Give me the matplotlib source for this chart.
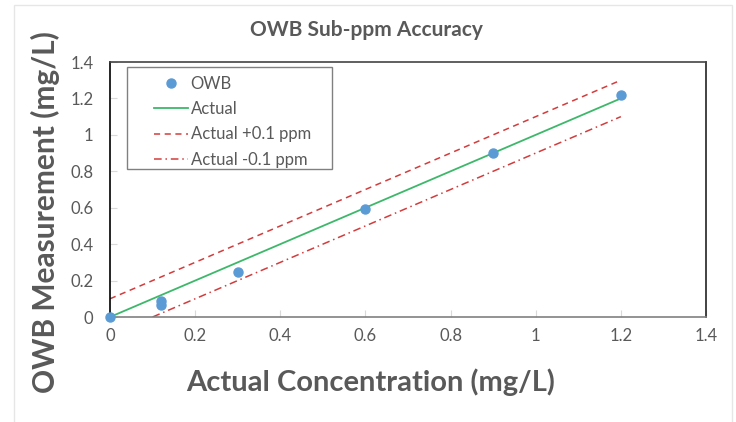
import numpy as np
import matplotlib
matplotlib.use('Agg')
import matplotlib.pyplot as plt
from matplotlib.patches import Rectangle
from matplotlib.ticker import FuncFormatter

plt.rcParams['font.family'] = ['Lato', 'DejaVu Sans']

# measured points
owb_x = [0, 0.12, 0.12, 0.3, 0.6, 0.9, 1.2]
owb_y = [0, 0.065, 0.088, 0.245, 0.595, 0.9, 1.22]

actual_x = [0, 1.2]
actual_y = [0, 1.2]
plus_x = [0, 1.2]
plus_y = [0.1, 1.3]
minus_x = [0.1, 1.2]
minus_y = [0, 1.1]

ticks = [0, 0.2, 0.4, 0.6, 0.8, 1.0, 1.2, 1.4]

TXT = '#595959'
BLUE = '#5B9BD5'
GREEN = '#3DB86A'
RED = '#D33C3C'

fig = plt.figure(figsize=(7.36, 4.22), dpi=100)
fig.patches.append(Rectangle((14 / 736, -0.01), 718 / 736, 1 - 5 / 422 + 0.01,
                             transform=fig.transFigure, fill=False,
                             edgecolor='#E6E6E6', linewidth=1))
ax = fig.add_axes([110 / 736, 105 / 422, 596 / 736, 255 / 422])

ax.plot(actual_x, actual_y, color=GREEN, lw=1.3, label='Actual', zorder=2)
ax.plot(plus_x, plus_y, color=RED, lw=1.1, ls=(0, (4, 3)), label='Actual +0.1 ppm', zorder=2)
ax.plot(minus_x, minus_y, color=RED, lw=1.1, ls=(0, (5, 2.5, 1, 2.5)), label='Actual -0.1 ppm', zorder=2)
ax.plot(owb_x, owb_y, 'o', color=BLUE, ms=6.5, label='OWB', zorder=3, clip_on=False)

ax.set_xlim(0, 1.4)
ax.set_ylim(0, 1.4)
ax.set_xticks(ticks)
ax.set_yticks(ticks)
fmt = FuncFormatter(lambda v, p: '%g' % round(v, 2))
ax.xaxis.set_major_formatter(fmt)
ax.yaxis.set_major_formatter(fmt)
ax.tick_params(axis='both', direction='in', length=5, width=0.8, color='#D9D9D9',
               labelcolor=TXT, labelsize=12)
ax.tick_params(axis='x', pad=8)
ax.tick_params(axis='y', pad=12)

ax.spines['left'].set_color('#000000')
ax.spines['right'].set_color('#222222')
ax.spines['top'].set_color('#444444')
ax.spines['bottom'].set_color('#808080')
for s in ax.spines.values():
    s.set_linewidth(1.2)

# legend: frame drawn separately so the handles can sit inset like the original
ax.add_patch(Rectangle((17 / 596, 148 / 255), 205 / 596, 102 / 255,
                       transform=ax.transAxes, fill=True, facecolor='white',
                       edgecolor='#808080', linewidth=1.0, zorder=4))
handles, labels = ax.get_legend_handles_labels()
order = [3, 0, 1, 2]
leg = ax.legend([handles[i] for i in order], [labels[i] for i in order],
                loc='upper left', bbox_to_anchor=(44 / 596, 241 / 255),
                frameon=False, borderaxespad=0, borderpad=0,
                handlelength=2.05, handletextpad=0.15, labelspacing=0.55,
                fontsize=12, labelcolor=TXT)
leg.set_zorder(5)

fig.text(366 / 736, 1 - 30 / 422, 'OWB Sub-ppm Accuracy', ha='center', va='center',
         fontsize=15, fontweight='bold', color=TXT)
fig.text(371 / 736, 1 - 382 / 422, 'Actual Concentration (mg/L)', ha='center', va='center',
         fontsize=21, fontweight='bold', color=TXT)
fig.text(45 / 736, 1 - 212 / 422, 'OWB Measurement (mg/L)', ha='center', va='center',
         rotation=90, fontsize=21.5, fontweight='bold', color=TXT)

fig.savefig('out.png', dpi=100)
